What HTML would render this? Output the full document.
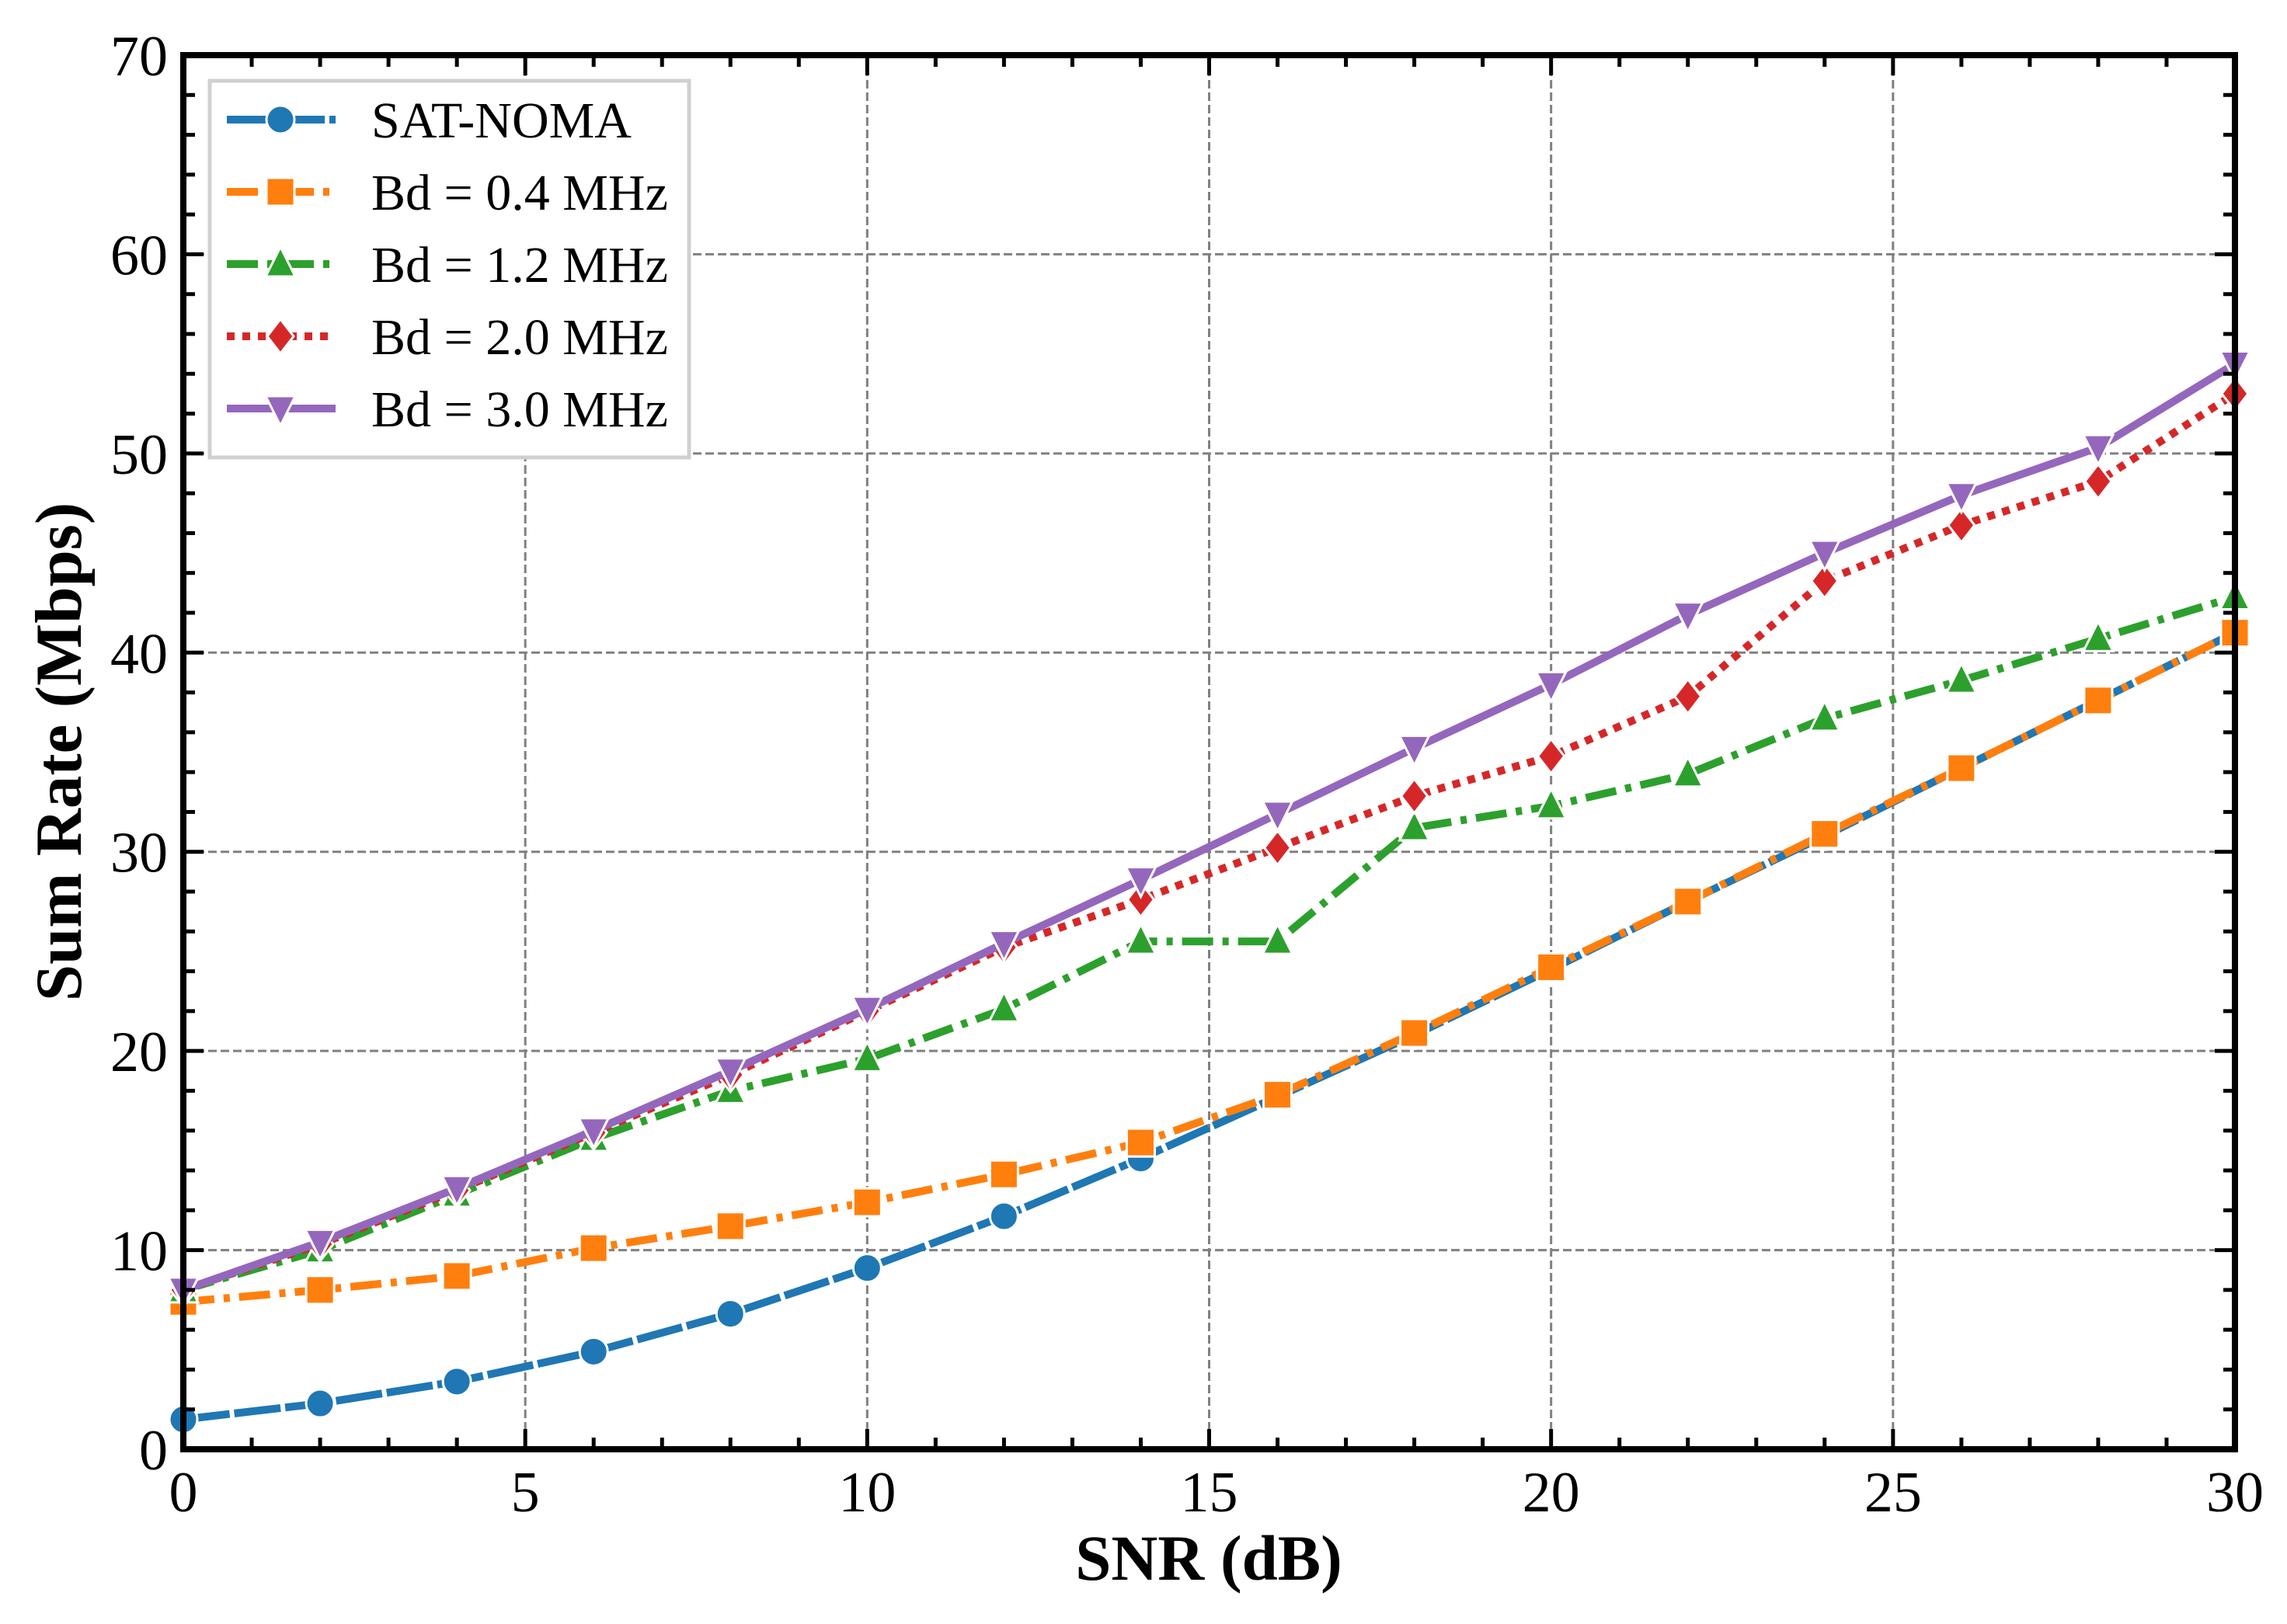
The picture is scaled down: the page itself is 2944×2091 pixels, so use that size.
<!DOCTYPE html>
<html><head><meta charset="utf-8"><style>
html,body{margin:0;padding:0;background:#fff;}
svg{display:block;font-family:"Liberation Serif",serif;}
</style></head><body>
<svg id="chart" width="2944" height="2091" viewBox="0 0 2944 2091" xmlns="http://www.w3.org/2000/svg">
<g id="grid"></g>
<g id="series"></g>
<g id="axes"></g>
<g id="legend"></g>
<text x="1556" y="2034" font-size="83" font-weight="bold" text-anchor="middle">SNR (dB)</text>
<text x="0" y="0" font-size="85" font-weight="bold" text-anchor="middle" transform="translate(104,968) rotate(-90)">Sum Rate (Mbps)</text>
</svg>
<script>
const snr = [0,2,4,6,8,10,12,14,16,18,20,22,24,26,28,30];
const satNoma = [1.5,2.3,3.4,4.9,6.8,9.1,11.7,14.6,17.7,20.8,24.1,27.5,30.8,34.2,37.6,41.0];
const bd04 = [7.4,8.0,8.7,10.1,11.2,12.4,13.8,15.4,17.8,20.9,24.2,27.5,30.9,34.2,37.6,41.0];
const bd12 = [8.0,10.0,12.8,15.6,18.0,19.6,22.1,25.5,25.5,31.2,32.3,33.9,36.7,38.6,40.7,42.8];
const bd20 = [8.0,10.3,13.0,15.9,18.8,22.0,25.2,27.6,30.2,32.8,34.8,37.8,43.6,46.4,48.6,53.0];
const bd30 = [8.0,10.4,13.1,16.0,19.0,22.1,25.4,28.6,31.9,35.2,38.4,41.9,45.0,47.9,50.3,54.5];
const xTicks = [0,5,10,15,20,25,30];
const yTicks = [0,10,20,30,40,50,60,70];
const seriesNames = ["SAT-NOMA","Bd = 0.4 MHz","Bd = 1.2 MHz","Bd = 2.0 MHz","Bd = 3.0 MHz"];

const NS="http://www.w3.org/2000/svg";
const L=236,R=2877,T=71,B=1866;
const xS=v=>L+(v-0)/30*(R-L);
const yS=v=>B-(v-0)/70*(B-T);
function mk(tag,attrs,parent){const e=document.createElementNS(NS,tag);for(const k in attrs)e.setAttribute(k,attrs[k]);parent.appendChild(e);return e;}
const grid=document.getElementById('grid'),axes=document.getElementById('axes'),ser=document.getElementById('series'),leg=document.getElementById('legend');

xTicks.forEach(v=>{
  if(v>0&&v<30){const g=mk('line',{x1:xS(v),x2:xS(v),y1:T,y2:B,stroke:'#808080','stroke-width':3,'stroke-dasharray':'11 5'},grid);
  
  }
  const t=mk('text',{x:xS(v),y:B+80,'font-size':74,'text-anchor':'middle'},axes);t.textContent=v;
  
  
});
yTicks.forEach(v=>{
  if(v>0&&v<70){const g=mk('line',{x1:L,x2:R,y1:yS(v),y2:yS(v),stroke:'#808080','stroke-width':3,'stroke-dasharray':'11 5'},grid);
  
  }
  const t=mk('text',{x:L-20,y:yS(v)+26,'font-size':74,'text-anchor':'end'},axes);t.textContent=v;
  
  
});
for(let v=0;v<=30;v++){const len=v%5===0?26:15;
  mk('line',{x1:xS(v),x2:xS(v),y1:B,y2:B-len,stroke:'#000','stroke-width':5},axes);
  mk('line',{x1:xS(v),x2:xS(v),y1:T,y2:T+len,stroke:'#000','stroke-width':5},axes);}
for(let v=0;v<=70;v+=2){const len=v%10===0?26:15;
  mk('line',{x1:L,x2:L+len,y1:yS(v),y2:yS(v),stroke:'#000','stroke-width':5},axes);
  mk('line',{x1:R,x2:R-len,y1:yS(v),y2:yS(v),stroke:'#000','stroke-width':5},axes);}
const frame=mk('rect',{x:L,y:T,width:R-L,height:B-T,fill:'none',stroke:'#000','stroke-width':8},axes);



const styles=[
 {data:satNoma,color:'#1f77b4',dash:'60 6',marker:'circle'},
 {data:bd04,color:'#ff7f0e',dash:'40 12 8 12',marker:'square'},
 {data:bd12,color:'#2ca02c',dash:'40 12 8 12',marker:'triangle'},
 {data:bd20,color:'#d62728',dash:'10 10',marker:'diamond'},
 {data:bd30,color:'#9467bd',dash:'',marker:'tri-down'}];
function marker(kind,x,y,c,p){let e;
 if(kind==='circle')e=mk('circle',{cx:x,cy:y,r:18,fill:c,stroke:'#fff','stroke-width':3},p);
 else if(kind==='square')e=mk('rect',{x:x-18,y:y-18,width:36,height:36,fill:c,stroke:'#fff','stroke-width':3},p);
 else if(kind==='triangle')e=mk('polygon',{points:`${x},${y-22} ${x-19},${y+16} ${x+19},${y+16}`,fill:c,stroke:'#fff','stroke-width':3},p);
 else if(kind==='diamond')e=mk('polygon',{points:`${x},${y-22} ${x+17},${y} ${x},${y+22} ${x-17},${y}`,fill:c,stroke:'#fff','stroke-width':3},p);
 else e=mk('polygon',{points:`${x},${y+22} ${x-19},${y-16} ${x+19},${y-16}`,fill:c,stroke:'#fff','stroke-width':3},p);
 return e;}
styles.forEach((s,i)=>{
 const g=mk('g',{},ser);
 
 
 const pts=snr.map((v,j)=>xS(v)+','+yS(s.data[j])).join(' ');
 const pl=mk('polyline',{points:pts,fill:'none',stroke:s.color,'stroke-width':10,'stroke-dasharray':s.dash,'stroke-linejoin':'round'},g);
 
 
 snr.forEach((v,j)=>{const m=marker(s.marker,xS(v),yS(s.data[j]),s.color,g);
  
  });
});
const box=mk('rect',{x:270,y:104,width:617,height:485,fill:'#fff',stroke:'#d0d0d0','stroke-width':5},leg);


styles.forEach((s,i)=>{
 const y=154+i*93;
 const g=mk('g',{},leg);
 
 
 mk('line',{x1:292,x2:432,y1:y,y2:y,stroke:s.color,'stroke-width':10,'stroke-dasharray':s.dash},g);
 marker(s.marker,361,y,s.color,g);
 const t=mk('text',{x:478,y:y+23,'font-size':66},g);t.textContent=seriesNames[i];
});
</script>
</body></html>
